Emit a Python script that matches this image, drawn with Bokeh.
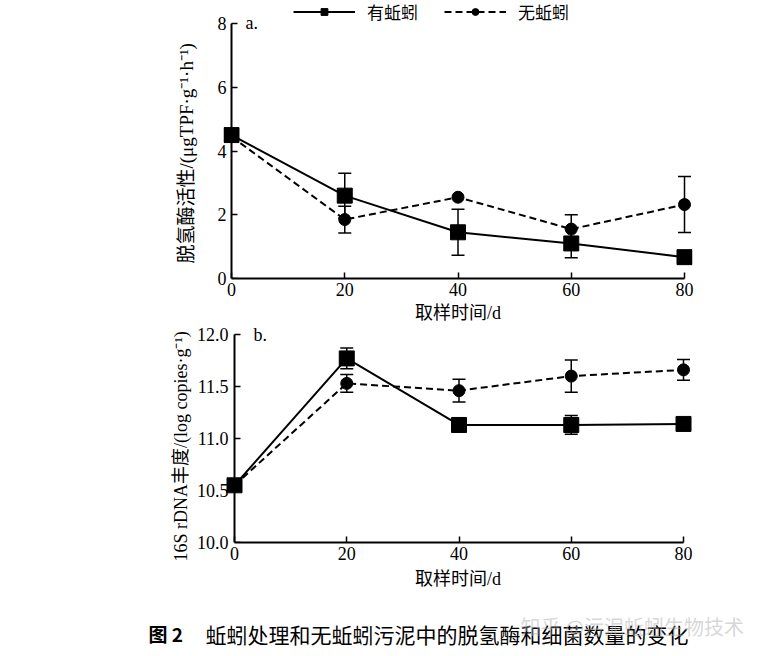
from bokeh.plotting import figure
from bokeh.models import (Range1d, Whisker, TeeHead, ColumnDataSource, Legend,
                          LegendItem, Label, FixedTicker, NumeralTickFormatter,
                          LinearAxis, Title)
from bokeh.layouts import column
from bokeh.embed import file_html
from bokeh.resources import INLINE

# ---------------- data ----------------
days = [0, 20, 40, 60, 80]
dha_with = [4.50, 2.60, 1.45, 1.10, 0.67]
dha_with_err = [0.0, 0.70, 0.72, 0.45, 0.0]
dha_without = [4.45, 1.85, 2.55, 1.55, 2.32]
dha_without_err = [0.0, 0.42, 0.0, 0.45, 0.88]
rdna_with = [10.55, 11.77, 11.13, 11.13, 11.14]
rdna_with_err = [0.0, 0.10, 0.0, 0.09, 0.0]
rdna_without = [10.55, 11.53, 11.46, 11.60, 11.66]
rdna_without_err = [0.0, 0.085, 0.11, 0.155, 0.10]
x_ticks = [0, 20, 40, 60, 80]
a_ticks = [0, 2, 4, 6, 8]
b_ticks = [10.0, 10.5, 11.0, 11.5, 12.0]
series_labels = ["有蚯蚓", "无蚯蚓"]
x_label = "取样时间/d"
a_ylabel = "脱氢酶活性/(μgTPF·g⁻¹·h⁻¹)"
b_ylabel = "16S rDNA丰度/(log copies·g⁻¹)"
caption_num = "图 2"
caption_text = "蚯蚓处理和无蚯蚓污泥中的脱氢酶和细菌数量的变化"
watermark = "知乎 @污泥蚯蚓生物技术"

SERIF = "'Liberation Serif', 'Noto Sans CJK SC'"
CJK = "'Noto Sans CJK SC'"


def err_source(x, y, e):
    xs = [a for a, b in zip(x, e) if b > 0]
    up = [v + b for v, b in zip(y, e) if b > 0]
    lo = [v - b for v, b in zip(y, e) if b > 0]
    return ColumnDataSource(dict(x=xs, upper=up, lower=lo))


def base_axis_style(ax):
    ax.axis_line_width = 2
    ax.axis_line_color = "black"
    ax.major_tick_line_width = 1.5
    ax.major_tick_line_color = "black"
    ax.major_tick_in = 6
    ax.major_tick_out = 0
    ax.minor_tick_in = 0
    ax.minor_tick_out = 0
    ax.major_label_text_font = SERIF
    ax.major_label_text_font_size = "18px"
    ax.major_label_text_color = "black"
    ax.axis_label_text_font = SERIF
    ax.axis_label_text_font_size = "18px"
    ax.axis_label_text_font_style = "normal"
    ax.axis_label_text_color = "black"


def style_axes(p, yticks, ylabel, ylabel_size, ylabel_offset, ylabel_standoff,
               ytick_standoff, xstandoff, yfmt=None):
    xa = p.xaxis[0]
    base_axis_style(xa)
    xa.ticker = FixedTicker(ticks=x_ticks)
    xa.bounds = (x_ticks[0], x_ticks[-1])
    xa.axis_label = x_label
    xa.major_label_standoff = 4
    xa.axis_label_standoff = xstandoff

    # tick labels at the frame edge (no line / ticks)
    ya = p.yaxis[0]
    base_axis_style(ya)
    ya.ticker = FixedTicker(ticks=yticks)
    ya.bounds = (yticks[0], yticks[-1])
    ya.axis_line_color = None
    ya.major_tick_line_color = None
    ya.major_label_standoff = ytick_standoff
    if yfmt:
        ya.formatter = NumeralTickFormatter(format=yfmt)

    # visible y axis line at x = 0
    yl = LinearAxis(fixed_location=0, ticker=FixedTicker(ticks=yticks),
                    bounds=(yticks[0], yticks[-1]))
    base_axis_style(yl)
    yl.major_label_text_font_size = "0px"
    yl.major_label_text_alpha = 0
    p.add_layout(yl, "left")

    # y axis title
    t = Title(text=ylabel, align="left", offset=ylabel_offset,
              standoff=ylabel_standoff, text_font=SERIF,
              text_font_size=ylabel_size, text_font_style="normal",
              text_color="black")
    p.add_layout(t, "left")

    p.xgrid.visible = False
    p.ygrid.visible = False
    p.outline_line_color = None


def draw_series(p, y_with, e_with, y_without, e_without):
    l2 = p.line(days, y_without, line_color="black", line_width=2, line_dash="7 4")
    m2 = p.scatter(days, y_without, marker="circle", size=12, fill_color="black",
                   line_color="black")
    l1 = p.line(days, y_with, line_color="black", line_width=2)
    m1 = p.scatter(days, y_with, marker="square", size=15, fill_color="black",
                   line_color="black")
    for y, e in ((y_with, e_with), (y_without, e_without)):
        src = err_source(days, y, e)
        w = Whisker(base="x", upper="upper", lower="lower", source=src,
                    line_width=1.5, line_color="black",
                    upper_head=TeeHead(size=13, line_width=1.5, line_color="black"),
                    lower_head=TeeHead(size=13, line_width=1.5, line_color="black"))
        p.add_layout(w)
    return (l1, m1), (l2, m2)


# ---------------- panel a ----------------
ua = 453 / 80.0      # px per day
va = 255 / 8.0       # px per unit
pa = figure(width=759, height=324, frame_width=469, frame_height=278,
            min_border_left=223, min_border_right=67, min_border_top=0,
            min_border_bottom=46,
            x_range=Range1d(-8 / ua, 80 + 8 / ua), y_range=Range1d(0, 8 + 23 / va),
            output_backend="svg", toolbar_location=None)
style_axes(pa, a_ticks, a_ylabel, "19px", 15, 36, -3, 4)
r_with, r_without = draw_series(pa, dha_with, dha_with_err, dha_without, dha_without_err)
legend = Legend(items=[LegendItem(label=series_labels[0], renderers=list(r_with)),
                       LegendItem(label=series_labels[1], renderers=list(r_without))],
                orientation="horizontal", location=(70, 254),
                glyph_width=62, glyph_height=17, label_height=17,
                label_standoff=12, spacing=26, padding=0, margin=0,
                border_line_color=None, background_fill_alpha=0,
                label_text_font=CJK, label_text_font_size="17px",
                label_text_color="black")
pa.add_layout(legend)
pa.add_layout(Label(x=22, y=256, x_units="screen", y_units="screen", text="a.",
                    text_font=SERIF, text_font_size="18px", text_baseline="middle",
                    text_color="black"))

# ---------------- panel b ----------------
ub = 449 / 80.0
vb = 208 / 2.0
pb = figure(width=759, height=272, frame_width=469, frame_height=216,
            min_border_left=223, min_border_right=67, min_border_top=1,
            min_border_bottom=55,
            x_range=Range1d(-11 / ub, 80 + 9 / ub), y_range=Range1d(10, 12 + 8 / vb),
            output_backend="svg", toolbar_location=None)
style_axes(pb, b_ticks, b_ylabel, "18px", -19, 5, -5, 6, "0.0")
draw_series(pb, rdna_with, rdna_with_err, rdna_without, rdna_without_err)
pb.add_layout(Label(x=30, y=208, x_units="screen", y_units="screen", text="b.",
                    text_font=SERIF, text_font_size="18px", text_baseline="middle",
                    text_color="black"))

# ---------------- caption ----------------
pc = figure(width=759, height=52, x_range=Range1d(0, 1), y_range=Range1d(0, 1),
            min_border=0, x_axis_location=None, y_axis_location=None,
            output_backend="svg", toolbar_location=None)
pc.grid.visible = False
pc.outline_line_color = None
pc.add_layout(Label(x=148, y=16, x_units="screen", y_units="screen", text=caption_num,
                    text_font=CJK, text_font_size="19px", text_font_style="bold",
                    text_baseline="middle", text_color="black"))
pc.add_layout(Label(x=205, y=16, x_units="screen", y_units="screen", text=caption_text,
                    text_font=CJK, text_font_size="21px",
                    text_baseline="middle", text_color="black"))
pc.add_layout(Label(x=520, y=23, x_units="screen", y_units="screen", text=watermark,
                    text_font=CJK, text_font_size="20px", text_alpha=0.5,
                    text_baseline="middle", text_color="#b0b0b0"))

layout = column(column(pa, pb, spacing=0), pc, spacing=0)
open("out.html", "w").write(file_html(layout, INLINE))
